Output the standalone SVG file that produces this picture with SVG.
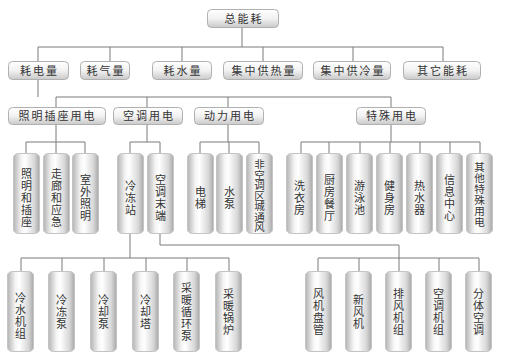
<svg xmlns="http://www.w3.org/2000/svg" width="505" height="359" viewBox="0 0 505 359">
<defs>
<linearGradient id="gb" x1="0" y1="0" x2="0" y2="1">
<stop offset="0" stop-color="#ffffff"/><stop offset="0.5" stop-color="#f2f2f2"/><stop offset="1" stop-color="#c9c9c9"/>
</linearGradient>
<linearGradient id="gc" x1="0" y1="0" x2="1" y2="0">
<stop offset="0" stop-color="#b4b4b4"/><stop offset="0.3" stop-color="#f4f4f4"/><stop offset="0.45" stop-color="#ffffff"/><stop offset="0.8" stop-color="#d8d8d8"/><stop offset="1" stop-color="#a8a8a8"/>
</linearGradient>
</defs>
<style>
.b{fill:url(#gb);stroke:#b0b0b0;stroke-width:1}
.c{fill:url(#gc);stroke:#c4c4c4;stroke-width:1}
.t{font-family:"Noto Sans CJK SC","Noto Sans",sans-serif;font-size:11px;fill:#333;text-anchor:middle}
.bt{letter-spacing:2px}
.s{font-size:10.5px}
.ln{fill:none;stroke:#7a7a7a;stroke-width:1}
</style>
<rect width="505" height="359" fill="#ffffff"/>
<g id="connectors" class="ln">
<path d="M242 28V47M38 47H443M38 47V61M110 47V61M182 47V61M263 47V61M353 47V61M443 47V61"/>
<path d="M38 79V97M56 97H391M56 97V108M147 97V108M228 97V108M391 97V108"/>
<path d="M56 124V142M26 142H85M26 142V153M56 142V153M85 142V153"/>
<path d="M147 124V142M130 142H160M130 142V153M160 142V153"/>
<path d="M228 124V142M200 142H259M200 142V153M229 142V153M259 142V153"/>
<path d="M391 124V142M301 142H480M301 142V153M329 142V153M360 142V153M390 142V153M420 142V153M450 142V153M480 142V153"/>
<path d="M130 233V258M21 258H229M21 258V271M62 258V271M104 258V271M146 258V271M187 258V271M229 258V271"/>
<path d="M160 233V245H399V258M318 258H479M318 258V271M359 258V271M399 258V271M439 258V271M479 258V271"/>
</g>
<g id="n-total"><rect class="b" x="207.5" y="9.5" width="71" height="18" rx="4"/><text class="t bt" x="244" y="22.5">总能耗</text></g>
<g id="n-elec"><rect class="b" x="8.5" y="61.5" width="60" height="18" rx="4"/><text class="t bt" x="39.5" y="74.5">耗电量</text></g>
<g id="n-gas"><rect class="b" x="80.5" y="61.5" width="49" height="18" rx="4"/><text class="t bt" x="106" y="74.5">耗气量</text></g>
<g id="n-water"><rect class="b" x="152.5" y="61.5" width="59" height="18" rx="4"/><text class="t bt" x="183" y="74.5">耗水量</text></g>
<g id="n-heat"><rect class="b" x="223.5" y="61.5" width="79" height="18" rx="4"/><text class="t bt" x="264" y="74.5">集中供热量</text></g>
<g id="n-cool"><rect class="b" x="313.5" y="61.5" width="77" height="18" rx="4"/><text class="t bt" x="353" y="74.5">集中供冷量</text></g>
<g id="n-other"><rect class="b" x="403.5" y="61.5" width="77" height="18" rx="4"/><text class="t bt" x="443" y="74.5">其它能耗</text></g>
<g id="n-light"><rect class="b" x="8.5" y="107.5" width="97" height="17" rx="4"/><text class="t bt" x="57.5" y="120">照明插座用电</text></g>
<g id="n-ac"><rect class="b" x="113.5" y="107.5" width="69" height="17" rx="4"/><text class="t bt" x="149" y="120">空调用电</text></g>
<g id="n-power"><rect class="b" x="194.5" y="107.5" width="69" height="17" rx="4"/><text class="t bt" x="230" y="120">动力用电</text></g>
<g id="n-special"><rect class="b" x="356.5" y="107.5" width="69" height="17" rx="4"/><text class="t bt" x="392" y="120">特殊用电</text></g>
<g id="c1"><rect class="c" x="13.5" y="153.5" width="26" height="80" rx="5" ry="4"/><text class="t" x="26.5" y="178"><tspan x="26.5">照</tspan><tspan x="26.5" dy="12">明</tspan><tspan x="26.5" dy="12">和</tspan><tspan x="26.5" dy="12">插</tspan><tspan x="26.5" dy="12">座</tspan></text></g>
<g id="c2"><rect class="c" x="43.5" y="153.5" width="26" height="80" rx="5" ry="4"/><text class="t" x="56.5" y="178"><tspan x="56.5">走</tspan><tspan x="56.5" dy="12">廊</tspan><tspan x="56.5" dy="12">和</tspan><tspan x="56.5" dy="12">应</tspan><tspan x="56.5" dy="12">急</tspan></text></g>
<g id="c3"><rect class="c" x="72.5" y="153.5" width="26" height="80" rx="5" ry="4"/><text class="t" x="85.5" y="184"><tspan x="85.5">室</tspan><tspan x="85.5" dy="12">外</tspan><tspan x="85.5" dy="12">照</tspan><tspan x="85.5" dy="12">明</tspan></text></g>
<g id="c4"><rect class="c" x="117.5" y="153.5" width="26" height="80" rx="5" ry="4"/><text class="t" x="130.5" y="190"><tspan x="130.5">冷</tspan><tspan x="130.5" dy="12">冻</tspan><tspan x="130.5" dy="12">站</tspan></text></g>
<g id="c5"><rect class="c" x="147.5" y="153.5" width="26" height="80" rx="5" ry="4"/><text class="t" x="160.5" y="184"><tspan x="160.5">空</tspan><tspan x="160.5" dy="12">调</tspan><tspan x="160.5" dy="12">末</tspan><tspan x="160.5" dy="12">端</tspan></text></g>
<g id="c6"><rect class="c" x="187.5" y="153.5" width="26" height="80" rx="5" ry="4"/><text class="t" x="200.5" y="196"><tspan x="200.5">电</tspan><tspan x="200.5" dy="12">梯</tspan></text></g>
<g id="c7"><rect class="c" x="216.5" y="153.5" width="26" height="80" rx="5" ry="4"/><text class="t" x="229.5" y="196"><tspan x="229.5">水</tspan><tspan x="229.5" dy="12">泵</tspan></text></g>
<g id="c8"><rect class="c" x="246.5" y="153.5" width="26" height="80" rx="5" ry="4"/><text class="t s" x="259.5" y="168"><tspan x="259.5">非</tspan><tspan x="259.5" dy="10.5">空</tspan><tspan x="259.5" dy="10.5">调</tspan><tspan x="259.5" dy="10.5">区</tspan><tspan x="259.5" dy="10.5">城</tspan><tspan x="259.5" dy="10.5">通</tspan><tspan x="259.5" dy="10.5">风</tspan></text></g>
<g id="c9"><rect class="c" x="286.5" y="153.5" width="26" height="80" rx="5" ry="4"/><text class="t" x="299.5" y="190"><tspan x="299.5">洗</tspan><tspan x="299.5" dy="12">衣</tspan><tspan x="299.5" dy="12">房</tspan></text></g>
<g id="c10"><rect class="c" x="316.5" y="153.5" width="26" height="80" rx="5" ry="4"/><text class="t" x="329.5" y="184"><tspan x="329.5">厨</tspan><tspan x="329.5" dy="12">房</tspan><tspan x="329.5" dy="12">餐</tspan><tspan x="329.5" dy="12">厅</tspan></text></g>
<g id="c11"><rect class="c" x="346.5" y="153.5" width="26" height="80" rx="5" ry="4"/><text class="t" x="359.5" y="190"><tspan x="359.5">游</tspan><tspan x="359.5" dy="12">泳</tspan><tspan x="359.5" dy="12">池</tspan></text></g>
<g id="c12"><rect class="c" x="376.5" y="153.5" width="26" height="80" rx="5" ry="4"/><text class="t" x="389.5" y="190"><tspan x="389.5">健</tspan><tspan x="389.5" dy="12">身</tspan><tspan x="389.5" dy="12">房</tspan></text></g>
<g id="c13"><rect class="c" x="406.5" y="153.5" width="26" height="80" rx="5" ry="4"/><text class="t" x="419.5" y="190"><tspan x="419.5">热</tspan><tspan x="419.5" dy="12">水</tspan><tspan x="419.5" dy="12">器</tspan></text></g>
<g id="c14"><rect class="c" x="436.5" y="153.5" width="26" height="80" rx="5" ry="4"/><text class="t" x="449.5" y="184"><tspan x="449.5">信</tspan><tspan x="449.5" dy="12">息</tspan><tspan x="449.5" dy="12">中</tspan><tspan x="449.5" dy="12">心</tspan></text></g>
<g id="c15"><rect class="c" x="466.5" y="153.5" width="26" height="80" rx="5" ry="4"/><text class="t s" x="479.5" y="171"><tspan x="479.5">其</tspan><tspan x="479.5" dy="11">他</tspan><tspan x="479.5" dy="11">特</tspan><tspan x="479.5" dy="11">殊</tspan><tspan x="479.5" dy="11">用</tspan><tspan x="479.5" dy="11">电</tspan></text></g>
<g id="d1"><rect class="c" x="7.5" y="271.5" width="26" height="80" rx="5" ry="4"/><text class="t" x="20.5" y="302"><tspan x="20.5">冷</tspan><tspan x="20.5" dy="12">水</tspan><tspan x="20.5" dy="12">机</tspan><tspan x="20.5" dy="12">组</tspan></text></g>
<g id="d2"><rect class="c" x="48.5" y="271.5" width="26" height="80" rx="5" ry="4"/><text class="t" x="61.5" y="304"><tspan x="61.5">冷</tspan><tspan x="61.5" dy="12">冻</tspan><tspan x="61.5" dy="12">泵</tspan></text></g>
<g id="d3"><rect class="c" x="90.5" y="271.5" width="26" height="80" rx="5" ry="4"/><text class="t" x="103.5" y="304"><tspan x="103.5">冷</tspan><tspan x="103.5" dy="12">却</tspan><tspan x="103.5" dy="12">泵</tspan></text></g>
<g id="d4"><rect class="c" x="132.5" y="271.5" width="26" height="80" rx="5" ry="4"/><text class="t" x="145.5" y="304"><tspan x="145.5">冷</tspan><tspan x="145.5" dy="12">却</tspan><tspan x="145.5" dy="12">塔</tspan></text></g>
<g id="d5"><rect class="c" x="173.5" y="271.5" width="26" height="80" rx="5" ry="4"/><text class="t" x="186.5" y="292"><tspan x="186.5">采</tspan><tspan x="186.5" dy="12">暖</tspan><tspan x="186.5" dy="12">循</tspan><tspan x="186.5" dy="12">环</tspan><tspan x="186.5" dy="12">泵</tspan></text></g>
<g id="d6"><rect class="c" x="215.5" y="271.5" width="26" height="80" rx="5" ry="4"/><text class="t" x="228.5" y="298"><tspan x="228.5">采</tspan><tspan x="228.5" dy="12">暖</tspan><tspan x="228.5" dy="12">锅</tspan><tspan x="228.5" dy="12">炉</tspan></text></g>
<g id="d7"><rect class="c" x="305.5" y="271.5" width="26" height="80" rx="5" ry="4"/><text class="t" x="318.5" y="298"><tspan x="318.5">风</tspan><tspan x="318.5" dy="12">机</tspan><tspan x="318.5" dy="12">盘</tspan><tspan x="318.5" dy="12">管</tspan></text></g>
<g id="d8"><rect class="c" x="345.5" y="271.5" width="26" height="80" rx="5" ry="4"/><text class="t" x="358.5" y="304"><tspan x="358.5">新</tspan><tspan x="358.5" dy="12">风</tspan><tspan x="358.5" dy="12">机</tspan></text></g>
<g id="d9"><rect class="c" x="385.5" y="271.5" width="26" height="80" rx="5" ry="4"/><text class="t" x="398.5" y="298"><tspan x="398.5">排</tspan><tspan x="398.5" dy="12">风</tspan><tspan x="398.5" dy="12">机</tspan><tspan x="398.5" dy="12">组</tspan></text></g>
<g id="d10"><rect class="c" x="425.5" y="271.5" width="26" height="80" rx="5" ry="4"/><text class="t" x="438.5" y="298"><tspan x="438.5">空</tspan><tspan x="438.5" dy="12">调</tspan><tspan x="438.5" dy="12">机</tspan><tspan x="438.5" dy="12">组</tspan></text></g>
<g id="d11"><rect class="c" x="465.5" y="271.5" width="26" height="80" rx="5" ry="4"/><text class="t" x="478.5" y="298"><tspan x="478.5">分</tspan><tspan x="478.5" dy="12">体</tspan><tspan x="478.5" dy="12">空</tspan><tspan x="478.5" dy="12">调</tspan></text></g>
</svg>
